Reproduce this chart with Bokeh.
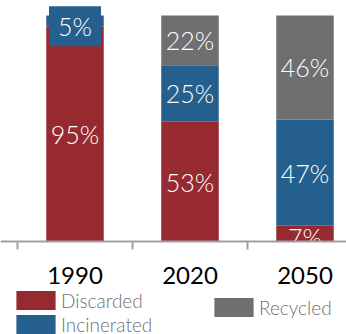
from bokeh.plotting import figure
from bokeh.models import Range1d, FixedTicker, Legend, LegendItem, ColumnDataSource, BoxAnnotation
from bokeh.core.properties import value
from bokeh.embed import file_html
from bokeh.resources import INLINE
import numpy as np

# ---- data ----
years = ["1990", "2020", "2050"]
discarded = [95, 53, 7]
incinerated = [5, 25, 47]
recycled = [0, 22, 46]
series = ["Discarded", "Incinerated", "Recycled"]
colors = ["#962a30", "#245f8e", "#6e6f6e"]

# ---- style ----
LABEL_FONT = "Lato Light"
AXIS_FONT = "Lato"
label_nudge = {("1990", "Incinerated"): 5, ("2050", "Discarded"): 3.5}
boxed = {("1990", "Incinerated")}

x = np.arange(len(years)) + 0.5
src = ColumnDataSource(dict(x=x, Discarded=discarded, Incinerated=incinerated, Recycled=recycled))

p = figure(width=346, height=334, output_backend="svg", toolbar_location=None,
           x_range=Range1d(-17 / 115, 329 / 115), y_range=Range1d(-93 / 2.26, 241 / 2.26),
           y_axis_location=None,
           min_border_left=0, min_border_right=0, min_border_top=0, min_border_bottom=0)
p.outline_line_color = None
p.xgrid.visible = False
p.ygrid.visible = False

rs = p.vbar_stack(series, x="x", width=0.5, color=colors, source=src, line_color=None)

# value labels
vals = {"Discarded": discarded, "Incinerated": incinerated, "Recycled": recycled}
lx, ly, lt, lo = [], [], [], []
bx, by, bt, bo = [], [], [], []
for i, yr in enumerate(years):
    base = 0
    for k, s in enumerate(series):
        v = vals[s][i]
        if v > 0:
            tgt = (bx, by, bt, bo) if (yr, s) in boxed else (lx, ly, lt, lo)
            tgt[0].append(x[i])
            tgt[1].append(base + v / 2)
            tgt[2].append(f"{v}%")
            tgt[3].append(label_nudge.get((yr, s), 0))
        base += v

lsrc = ColumnDataSource(dict(x=lx, y=ly, t=lt, o=lo))
p.text(x="x", y="y", text="t", y_offset="o", source=lsrc, text_align="center", text_baseline="middle",
       text_color="white", text_font=value(LABEL_FONT), text_font_size="25px")

# cover below the baseline (labels are cut at the axis line)
p.add_layout(BoxAnnotation(top=0, fill_color="white", fill_alpha=1, line_color=None, level="glyph"))

bsrc = ColumnDataSource(dict(x=bx, y=by, t=bt, o=bo))
p.text(x="x", y="y", text="t", y_offset="o", source=bsrc, text_align="center", text_baseline="middle",
       text_color="white", text_font=value(LABEL_FONT), text_font_size="25px",
       background_fill_color=colors[1], padding=dict(left=9, right=9, top=5, bottom=5))

# axis
ax = p.xaxis[0]
ax.fixed_location = 0
ax.ticker = FixedTicker(ticks=list(x), minor_ticks=list(range(len(years) + 1)))
ax.major_label_overrides = {float(xi): yr for xi, yr in zip(x, years)}
ax.major_tick_line_color = None
ax.major_tick_out = 0
ax.major_tick_in = 0
ax.minor_tick_out = 8
ax.minor_tick_in = 0
ax.minor_tick_line_color = "#a0a0a0"
ax.minor_tick_line_width = 2
ax.axis_line_color = "#a0a0a0"
ax.axis_line_width = 2
ax.major_label_text_font = AXIS_FONT
ax.major_label_text_font_size = "24px"
ax.major_label_text_color = "black"
ax.major_label_standoff = 17

common = dict(glyph_width=49, glyph_height=24, label_standoff=1, padding=0, margin=0, spacing=0,
              border_line_color=None, background_fill_alpha=0, label_text_font=LABEL_FONT,
              label_text_font_size="19px", label_text_color="#707070", label_height=20)
leg1 = Legend(items=[LegendItem(label=series[0], renderers=[rs[0]]),
                     LegendItem(label=series[1], renderers=[rs[1]])],
              location=(11, -2), **common)
leg2 = Legend(items=[LegendItem(label=series[2], renderers=[rs[2]])],
              location=(209, 15), **common)
p.add_layout(leg1)
p.add_layout(leg2)

open("out.html", "w").write(file_html(p, INLINE))
